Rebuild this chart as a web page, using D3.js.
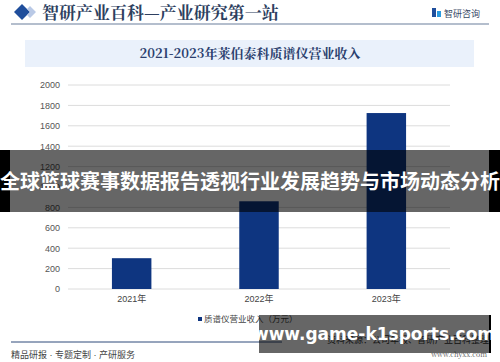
<!DOCTYPE html>
<html>
<head>
<meta charset="utf-8">
<script src="https://cdn.jsdelivr.net/npm/d3@7/dist/d3.min.js"></script>
<style>
  body { margin: 0; background: #fff; }
  svg { display: block; }
</style>
</head>
<body>
<div id="vis"></div>
<script>
'use strict';
// chart data
var years = ['2021年', '2022年', '2023年'];
var revenue = [302, 860, 1725];   // 质谱仪营业收入（万元）
var yTicks = [0, 200, 400, 600, 800, 1000, 1200, 1400, 1600, 1800, 2000];

var width = 500, height = 362;
var plot = { left: 68, right: 450, top: 85, bottom: 289 };
var serif = '"Noto Serif CJK SC", "Noto Sans CJK SC", serif';
var sans = '"Liberation Sans", Arial, "Noto Sans CJK SC", sans-serif';

var svg = d3.select('#vis').append('svg')
  .attr('width', width).attr('height', height);

// page header
svg.append('path')
  .attr('d', 'M22,4 L30,12 L22,20 L14,12 Z').attr('fill', '#1f4e9c');
svg.append('path')
  .attr('d', 'M30,6 L36,12 L30,18 L27,15 L30,12 L27,9 Z').attr('fill', '#b9c9e6');
svg.append('text')
  .attr('x', 42).attr('y', 19)
  .attr('font-family', serif).attr('font-size', 17).attr('font-weight', 'bold')
  .attr('fill', '#2e3f5f')
  .text('智研产业百科—产业研究第一站');
svg.append('rect').attr('x', 432).attr('y', 8).attr('width', 4).attr('height', 9).attr('fill', '#1f4e9c');
svg.append('rect').attr('x', 437).attr('y', 11).attr('width', 4).attr('height', 6).attr('fill', '#2a9be0');
svg.append('text')
  .attr('x', 444).attr('y', 17)
  .attr('font-family', sans).attr('font-size', 9).attr('fill', '#3a4a66')
  .text('智研咨询');
svg.append('line')
  .attr('x1', 11).attr('x2', 489).attr('y1', 24).attr('y2', 24)
  .attr('stroke', '#6a7f9c').attr('stroke-width', 1.2);

// title box
svg.append('rect')
  .attr('x', 25).attr('y', 40).attr('width', 449).attr('height', 27)
  .attr('fill', '#eaf1fb');
svg.append('text')
  .attr('x', 250).attr('y', 58).attr('text-anchor', 'middle')
  .attr('font-family', serif).attr('font-size', 13).attr('font-weight', 'bold')
  .attr('fill', '#2b3f6e')
  .text('2021-2023年莱伯泰科质谱仪营业收入');

// scales
var x = d3.scaleBand().domain(years)
  .range([plot.left, plot.right]).paddingInner(0.69).paddingOuter(0.345);
var y = d3.scaleLinear().domain([0, 2000]).range([plot.bottom, plot.top]);

// grid
svg.append('g').selectAll('line').data(yTicks).enter().append('line')
  .attr('x1', plot.left).attr('x2', plot.right)
  .attr('y1', function(d) { return y(d); }).attr('y2', function(d) { return y(d); })
  .attr('stroke', '#dcdcdc').attr('stroke-width', 1);

// y axis
var yAxis = svg.append('g')
  .attr('transform', 'translate(' + (plot.left - 8) + ',0)')
  .call(d3.axisLeft(y).tickValues(yTicks).tickFormat(d3.format('d')).tickSize(0).tickPadding(0));
yAxis.select('.domain').remove();
yAxis.selectAll('text')
  .attr('font-family', sans).attr('font-size', 9).attr('fill', '#555');

// x axis
var xAxis = svg.append('g')
  .attr('transform', 'translate(0,' + plot.bottom + ')')
  .call(d3.axisBottom(x).tickSize(0).tickPadding(7));
xAxis.select('.domain').remove();
xAxis.selectAll('text')
  .attr('font-family', sans).attr('font-size', 9).attr('fill', '#444');

// bars
svg.append('g').selectAll('rect').data(revenue).enter().append('rect')
  .attr('x', function(d, i) { return x(years[i]); })
  .attr('y', function(d) { return y(d); })
  .attr('width', x.bandwidth())
  .attr('height', function(d) { return y(0) - y(d); })
  .attr('fill', '#0e3580');

// legend
svg.append('rect').attr('x', 198).attr('y', 317).attr('width', 4).attr('height', 4).attr('fill', '#0e3580');
svg.append('text')
  .attr('x', 204).attr('y', 322)
  .attr('font-family', sans).attr('font-size', 8.5).attr('fill', '#444')
  .text('质谱仪营业收入（万元）');

// footer
svg.append('line')
  .attr('x1', 11).attr('x2', 282).attr('y1', 342).attr('y2', 342)
  .attr('stroke', '#2e4a7a').attr('stroke-width', 1);
svg.append('text')
  .attr('x', 11).attr('y', 358)
  .attr('font-family', sans).attr('font-size', 9).attr('fill', '#444')
  .text('精品研报 · 专题定制 · 产研服务');
svg.append('text')
  .attr('x', 489).attr('y', 343).attr('text-anchor', 'end')
  .attr('font-family', sans).attr('font-size', 9).attr('fill', '#333')
  .text('资料来源：公司年报、智研产业百科整理');
svg.append('text')
  .attr('x', 487).attr('y', 357).attr('text-anchor', 'end')
  .attr('font-family', serif).attr('font-size', 7).attr('fill', '#555')
  .text('www.chyxx.com');

// overlay band with headline
svg.append('rect').attr('x', 0).attr('y', 150).attr('width', 10).attr('height', 62).attr('fill', '#000');
svg.append('rect').attr('x', 489).attr('y', 150).attr('width', 11).attr('height', 62).attr('fill', '#000');
svg.append('rect').attr('x', 10).attr('y', 150).attr('width', 479).attr('height', 62)
  .attr('fill', '#000').attr('fill-opacity', 0.6);
svg.append('text')
  .attr('x', 250).attr('y', 189).attr('text-anchor', 'middle')
  .attr('font-family', '"Noto Sans CJK SC", sans-serif').attr('font-size', 20).attr('font-weight', 'bold')
  .attr('fill', '#fff')
  .text('全球篮球赛事数据报告透视行业发展趋势与市场动态分析');

// bottom watermark box
svg.append('rect').attr('x', 259).attr('y', 315).attr('width', 230).attr('height', 38)
  .attr('fill', '#000').attr('fill-opacity', 0.6);
svg.append('rect').attr('x', 489).attr('y', 315).attr('width', 2).attr('height', 38).attr('fill', '#000');
svg.append('text')
  .attr('x', 374).attr('y', 340).attr('text-anchor', 'middle')
  .attr('font-family', '"DejaVu Sans", sans-serif').attr('font-size', 17).attr('font-weight', 'bold')
  .attr('fill', '#fff')
  .text('www.game-k1sports.com');
</script>
</body>
</html>
